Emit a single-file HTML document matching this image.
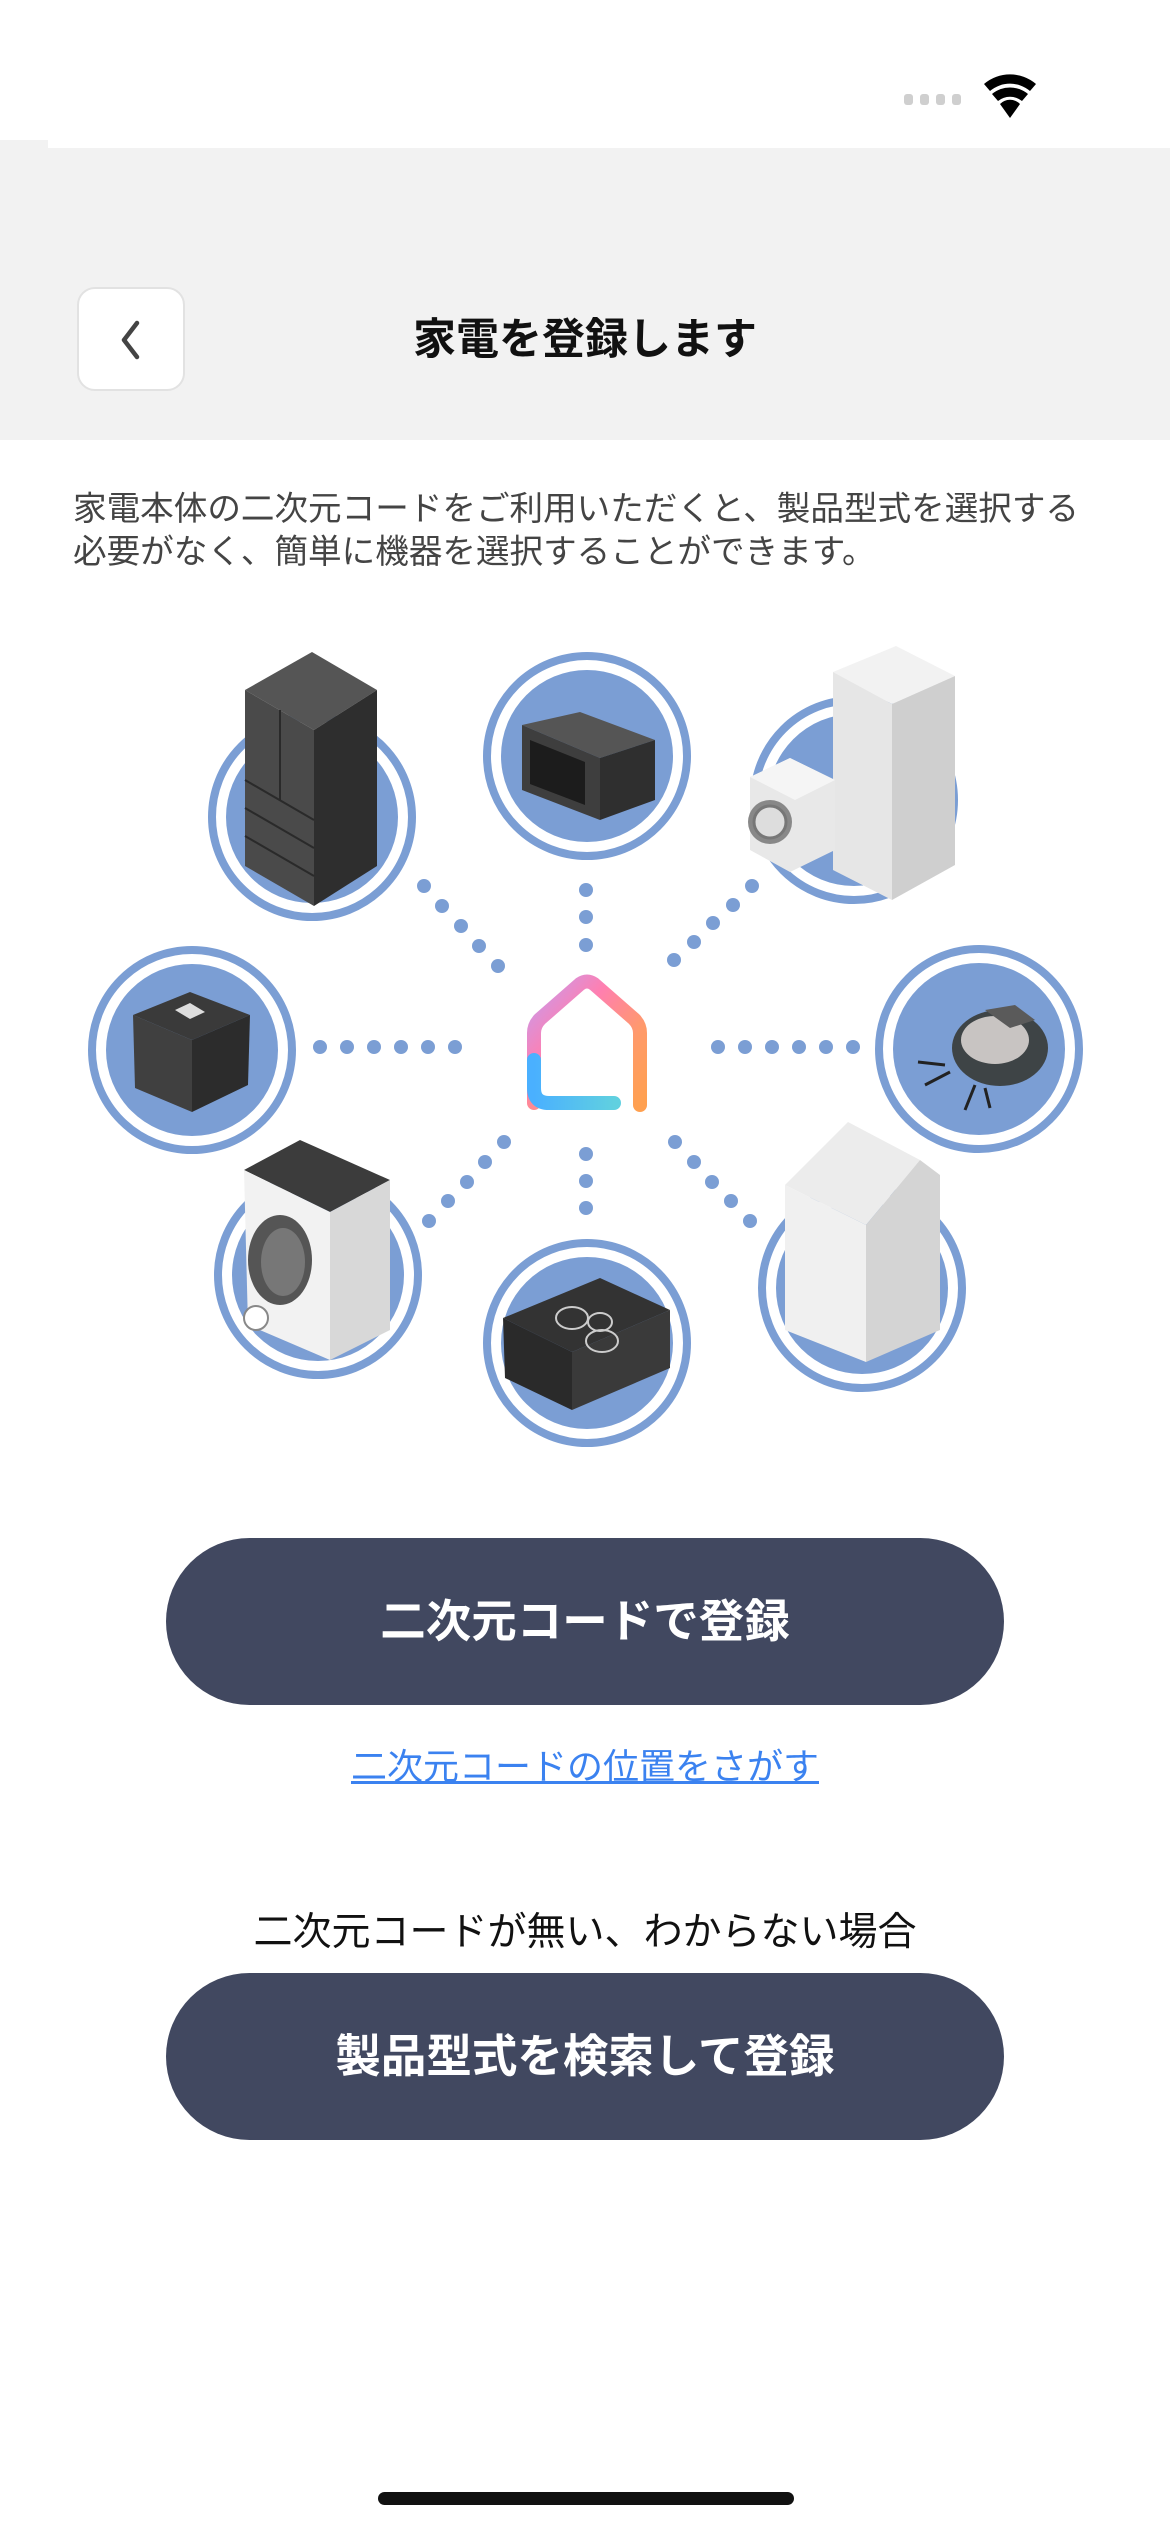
<!DOCTYPE html>
<html><head><meta charset="utf-8">
<style>
html,body{margin:0;padding:0;}
body{width:1170px;height:2532px;position:relative;background:#fff;overflow:hidden;font-family:"Liberation Sans","Noto Sans CJK JP",sans-serif;}
.hdr{position:absolute;left:0;top:148px;width:1170px;height:292px;background:#f2f2f2;}
.notch{position:absolute;left:0;top:140px;width:48px;height:10px;background:#f2f2f2;}
.back{position:absolute;left:77px;top:287px;width:108px;height:104px;background:#fff;border:2px solid #e2e2e2;border-radius:18px;box-sizing:border-box;}
.title{position:absolute;left:0;width:1170px;top:310px;text-align:center;font-size:43px;font-weight:bold;color:#111;line-height:60px;}
.desc{position:absolute;left:73px;top:488px;font-size:33.6px;color:#444;line-height:43px;white-space:nowrap;}
.btn{position:absolute;left:166px;width:838px;height:167px;border-radius:84px;background:#414860;color:#fff;font-size:45.5px;font-weight:bold;text-align:center;line-height:167px;}
.link{position:absolute;left:0;width:1170px;top:1742px;text-align:center;font-size:36px;color:#3b82f0;text-decoration:underline;line-height:50px;}
.sub{position:absolute;left:0;width:1170px;top:1906px;text-align:center;font-size:39px;color:#111;line-height:54px;}
.home{position:absolute;left:378px;top:2492px;width:416px;height:13px;border-radius:7px;background:#111;}
</style></head><body>
<div class="notch"></div>
<div class="hdr"></div>
<svg style="position:absolute;left:0;top:0" width="1170" height="150">
 <g fill="#cfcfcf"><rect x="904" y="94" width="9" height="11" rx="3"/><rect x="920" y="94" width="9" height="11" rx="3"/><rect x="936" y="94" width="9" height="11" rx="3"/><rect x="952" y="94" width="9" height="11" rx="3"/></g>
 <path d="M984 84 A40 40 0 0 1 1036 84 L1030 91 A31 31 0 0 0 990 91 Z" fill="#000"/>
 <path d="M992 94 A28 28 0 0 1 1028 94 L1022 101 A19 19 0 0 0 998 101 Z" fill="#000"/>
 <path d="M1000 104 L1010 118 L1020 104 A14 14 0 0 0 1000 104 Z" fill="#000"/>
</svg>
<div class="back"><svg width="104" height="100" style="position:absolute;left:0;top:0"><path d="M58 34 L45 51 L58 68" fill="none" stroke="#444" stroke-width="4.5" stroke-linecap="round" stroke-linejoin="round"/></svg></div>
<div class="title">家電を登録します</div>
<div class="desc">家電本体の二次元コードをご利用いただくと、製品型式を選択する<br>必要がなく、簡単に機器を選択することができます。</div>

<svg style="position:absolute;left:0;top:600px" width="1170" height="850" viewBox="0 600 1170 850">
 <defs>
  <linearGradient id="hg" x1="0" y1="0" x2="1" y2="1">
   <stop offset="0" stop-color="#c59cf0"/><stop offset="0.35" stop-color="#ff7fb0"/><stop offset="0.7" stop-color="#ff9a6a"/><stop offset="1" stop-color="#ffa050"/>
  </linearGradient>
  <linearGradient id="hb" x1="0" y1="0" x2="1" y2="0">
   <stop offset="0" stop-color="#4ab0ff"/><stop offset="1" stop-color="#60d0e0"/>
  </linearGradient>
 </defs>
 <g>
  <circle cx="312" cy="817" r="100" fill="none" stroke="#7b9ed4" stroke-width="8"/><circle cx="312" cy="817" r="86" fill="#7b9ed4"/>
  <circle cx="587" cy="756" r="100" fill="none" stroke="#7b9ed4" stroke-width="8"/><circle cx="587" cy="756" r="86" fill="#7b9ed4"/>
  <circle cx="854" cy="800" r="100" fill="none" stroke="#7b9ed4" stroke-width="8"/><circle cx="854" cy="800" r="86" fill="#7b9ed4"/>
  <circle cx="192" cy="1050" r="100" fill="none" stroke="#7b9ed4" stroke-width="8"/><circle cx="192" cy="1050" r="86" fill="#7b9ed4"/>
  <circle cx="979" cy="1049" r="100" fill="none" stroke="#7b9ed4" stroke-width="8"/><circle cx="979" cy="1049" r="86" fill="#7b9ed4"/>
  <circle cx="318" cy="1275" r="100" fill="none" stroke="#7b9ed4" stroke-width="8"/><circle cx="318" cy="1275" r="86" fill="#7b9ed4"/>
  <circle cx="587" cy="1343" r="100" fill="none" stroke="#7b9ed4" stroke-width="8"/><circle cx="587" cy="1343" r="86" fill="#7b9ed4"/>
  <circle cx="862" cy="1288" r="100" fill="none" stroke="#7b9ed4" stroke-width="8"/><circle cx="862" cy="1288" r="86" fill="#7b9ed4"/>
 </g>
 <g fill="#7b9ed4">
  <circle cx="320" cy="1047" r="7"/><circle cx="347" cy="1047" r="7"/><circle cx="374" cy="1047" r="7"/><circle cx="401" cy="1047" r="7"/><circle cx="428" cy="1047" r="7"/><circle cx="455" cy="1047" r="7"/>
  <circle cx="718" cy="1047" r="7"/><circle cx="745" cy="1047" r="7"/><circle cx="772" cy="1047" r="7"/><circle cx="799" cy="1047" r="7"/><circle cx="826" cy="1047" r="7"/><circle cx="853" cy="1047" r="7"/>
  <circle cx="586" cy="890" r="7"/><circle cx="586" cy="917" r="7"/><circle cx="586" cy="945" r="7"/>
  <circle cx="586" cy="1154" r="7"/><circle cx="586" cy="1181" r="7"/><circle cx="586" cy="1208" r="7"/>
  <circle cx="424" cy="886" r="7"/><circle cx="442" cy="906" r="7"/><circle cx="461" cy="926" r="7"/><circle cx="479" cy="946" r="7"/><circle cx="498" cy="966" r="7"/>
  <circle cx="752" cy="886" r="7"/><circle cx="733" cy="905" r="7"/><circle cx="713" cy="923" r="7"/><circle cx="694" cy="942" r="7"/><circle cx="674" cy="960" r="7"/>
  <circle cx="504" cy="1142" r="7"/><circle cx="485" cy="1162" r="7"/><circle cx="467" cy="1182" r="7"/><circle cx="448" cy="1201" r="7"/><circle cx="429" cy="1221" r="7"/>
  <circle cx="675" cy="1142" r="7"/><circle cx="694" cy="1162" r="7"/><circle cx="712" cy="1182" r="7"/><circle cx="731" cy="1201" r="7"/><circle cx="750" cy="1221" r="7"/>
 </g>
 <path d="M534 1103 L534 1033 Q534 1025 540 1019 L580 984 Q587 979 594 984 L634 1019 Q640 1025 640 1033 L640 1105" fill="none" stroke="url(#hg)" stroke-width="14" stroke-linecap="round" stroke-linejoin="round"/>
 <path d="M534 1060 L534 1088 Q534 1103 549 1103 L614 1103" fill="none" stroke="url(#hb)" stroke-width="14" stroke-linecap="round"/>
 <!-- fridge -->
 <polygon points="245,690 312,652 377,690 314,730" fill="#555"/>
 <polygon points="245,690 314,730 314,906 245,866" fill="#4a4a4a"/>
 <polygon points="314,730 377,690 377,866 314,906" fill="#2e2e2e"/>
 <g stroke="#2a2a2a" stroke-width="2"><line x1="280" y1="710" x2="280" y2="800"/><line x1="245" y1="780" x2="314" y2="820"/><line x1="245" y1="808" x2="314" y2="848"/><line x1="245" y1="836" x2="314" y2="876"/></g>
 <!-- microwave -->
 <polygon points="522,725 580,712 655,740 600,758" fill="#555"/>
 <polygon points="522,725 600,758 600,820 522,790" fill="#3e3e3e"/>
 <polygon points="600,758 655,740 655,800 600,820" fill="#2f2f2f"/>
 <polygon points="530,740 585,762 585,805 530,784" fill="#1c1c1c"/>
 <!-- heat pump -->
 <polygon points="833,672 896,646 955,676 892,704" fill="#f2f2f2"/>
 <polygon points="833,672 892,704 892,900 833,870" fill="#e6e6e6"/>
 <polygon points="892,704 955,676 955,865 892,900" fill="#cfcfcf"/>
 <polygon points="750,777 790,758 835,780 835,850 790,872 750,850" fill="#e8e8e8"/>
 <polygon points="750,777 790,758 835,780 795,800" fill="#f5f5f5"/>
 <circle cx="770" cy="822" r="22" fill="#888"/><circle cx="770" cy="822" r="16" fill="#ddd" stroke="#777" stroke-width="3"/>
 <!-- rice cooker -->
 <polygon points="133,1015 190,992 250,1015 192,1040" fill="#3a3a3a"/>
 <polygon points="133,1015 192,1040 192,1112 135,1088" fill="#404040"/>
 <polygon points="192,1040 250,1015 248,1085 192,1112" fill="#2c2c2c"/>
 <polygon points="175,1010 190,1003 205,1012 190,1019" fill="#ddd"/>
 <!-- robot vacuum -->
 <ellipse cx="1000" cy="1048" rx="48" ry="38" fill="#3e4446"/>
 <ellipse cx="995" cy="1040" rx="34" ry="24" fill="#c8c4c2"/>
 <polygon points="985,1010 1015,1005 1035,1020 1010,1028" fill="#5a5a5a"/>
 <g stroke="#222" stroke-width="3"><line x1="945" y1="1065" x2="918" y2="1062"/><line x1="950" y1="1072" x2="925" y2="1085"/><line x1="975" y1="1085" x2="965" y2="1110"/><line x1="985" y1="1088" x2="990" y2="1108"/></g>
 <!-- drum washer -->
 <polygon points="244,1170 300,1140 390,1180 330,1212" fill="#3c3c3c"/>
 <polygon points="244,1170 330,1212 330,1360 248,1325" fill="#f2f2f2"/>
 <polygon points="330,1212 390,1180 390,1330 330,1360" fill="#d8d8d8"/>
 <ellipse cx="280" cy="1260" rx="32" ry="45" fill="#555"/><ellipse cx="283" cy="1262" rx="22" ry="34" fill="#777"/>
 <circle cx="256" cy="1318" r="12" fill="#fff" stroke="#888" stroke-width="2"/>
 <!-- IH cooktop -->
 <polygon points="503,1318 600,1278 670,1310 572,1352" fill="#333"/>
 <polygon points="503,1318 572,1352 572,1410 505,1378" fill="#2a2a2a"/>
 <polygon points="572,1352 670,1310 670,1368 572,1410" fill="#3a3a3a"/>
 <g fill="none" stroke="#ccc" stroke-width="2"><ellipse cx="572" cy="1318" rx="16" ry="11"/><ellipse cx="600" cy="1322" rx="12" ry="9"/><ellipse cx="602" cy="1341" rx="16" ry="11"/></g>
 <!-- upright washer -->
 <polygon points="785,1185 848,1122 920,1160 866,1225" fill="#ececec"/>
 <polygon points="785,1185 866,1225 866,1362 785,1330" fill="#f0f0f0"/>
 <polygon points="866,1225 920,1160 940,1175 940,1330 866,1362" fill="#d4d4d4"/>
</svg>

<div class="btn" style="top:1538px">二次元コードで登録</div>
<div class="link">二次元コードの位置をさがす</div>
<div class="sub">二次元コードが無い、わからない場合</div>
<div class="btn" style="top:1973px">製品型式を検索して登録</div>
<div class="home"></div>
</body></html>
